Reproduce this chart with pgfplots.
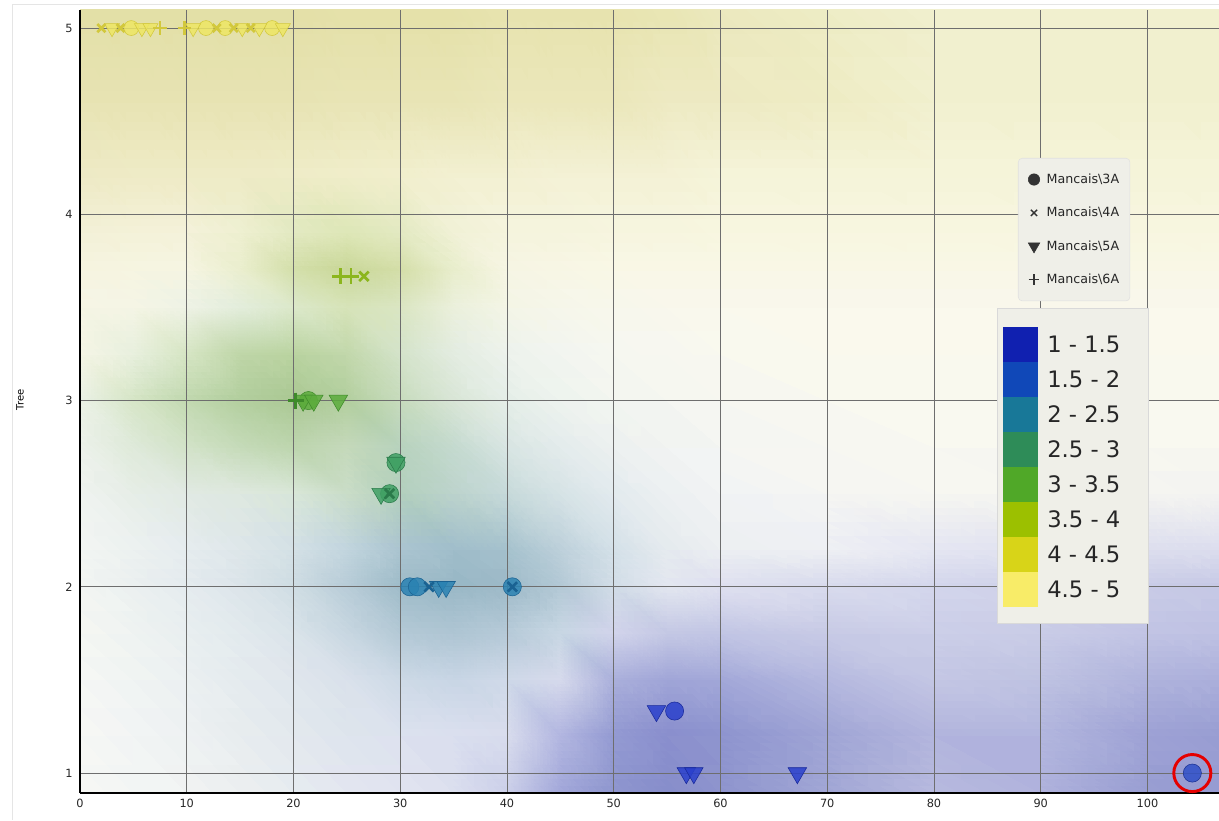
\documentclass[border=0pt]{standalone}
\usepackage{pgfplots}
\pgfplotsset{compat=1.18}
\usepackage{fontspec}
\setmainfont{DejaVu Sans}
\definecolor{cA}{HTML}{1020B0}
\definecolor{cB}{HTML}{1048B8}
\definecolor{cC}{HTML}{187898}
\definecolor{cD}{HTML}{2E8C58}
\definecolor{cE}{HTML}{50A828}
\definecolor{cF}{HTML}{9CC000}
\definecolor{cG}{HTML}{D8D418}
\definecolor{cH}{HTML}{F8EC68}
\definecolor{yF}{HTML}{EEE664}
\definecolor{yD}{HTML}{D2C83C}
\definecolor{ygC}{HTML}{8CB61E}
\definecolor{gF}{HTML}{5CAC3C}
\definecolor{gD}{HTML}{3E8A2A}
\definecolor{gtF}{HTML}{40A064}
\definecolor{gtD}{HTML}{2A7A4A}
\definecolor{tF}{HTML}{2A82B2}
\definecolor{tD}{HTML}{1A6292}
\definecolor{bF}{HTML}{2A40CC}
\definecolor{bD}{HTML}{18289A}
\definecolor{b2F}{HTML}{3050C8}
\definecolor{b2D}{HTML}{1A3090}
\definecolor{legbg}{HTML}{EFEFE8}
\definecolor{gridc}{HTML}{6E6E6E}
\pgfplotsset{
  circ/.style={only marks, mark=*, mark size=6.8pt, fill opacity=0.85},
  tri/.style={only marks, mark=triangle*, mark size=8pt, mark options={rotate=180}, fill opacity=0.85},
  crs/.style={only marks, mark=x, mark size=5pt, line width=2pt},
  pls/.style={only marks, mark=+, mark size=6pt, line width=2pt},
}
\begin{document}
\begin{tikzpicture}
\draw[black!10] (-51pt,-20.25pt) -- (-51pt,591.75pt) -- (854.25pt,591.75pt);
\begin{axis}[
  set layers,
  scale only axis, width=854.25pt, height=587.25pt,
  xmin=0, xmax=106.7, ymin=0.893, ymax=5.097,
  xtick={0,10,...,100}, ytick={1,2,3,4,5},
  grid=major, major grid style={gridc, line width=0.5pt},
  axis x line*=bottom, axis y line*=left,
  axis line style={line width=1.5pt, black, -},
  major tick length=0pt,
  tick label style={font=\fontsize{8.5}{10}\selectfont, text=black!85},
  /pgf/number format/assume math mode=true,
  xticklabel style={yshift=-1pt},
  yticklabel style={xshift=-2pt},
  ylabel={Tree},
  ylabel style={font=\fontsize{7.5}{9}\selectfont, at={(axis description cs:-0.0527,0.502)}, anchor=center},
  legend style={at={(axis description cs:0.8235,0.811)}, anchor=north west, fill=legbg, draw=black!12, rounded corners=3pt, inner xsep=7.5pt, inner ysep=11pt, row sep=15.1pt, column sep=4.5pt, font=\fontsize{9.5}{11}\selectfont, text=black!85, cells={anchor=west}, nodes={inner sep=0.6pt}},
]
\addplot[surf, shader=interp, mesh/color input=explicit, mesh/cols=18, on layer=axis background, forget plot] table[x=x, y=y, meta=c] {
x y c
0 0.893 rgb=0.965,0.97,0.955
5 0.893 rgb=0.95,0.96,0.955
10 0.893 rgb=0.94,0.95,0.95
15 0.893 rgb=0.92,0.935,0.94
20 0.893 rgb=0.90,0.92,0.94
25 0.893 rgb=0.885,0.90,0.94
30 0.893 rgb=0.88,0.89,0.94
35 0.893 rgb=0.86,0.875,0.935
40 0.893 rgb=0.80,0.815,0.915
45 0.893 rgb=0.64,0.66,0.855
50 0.893 rgb=0.56,0.59,0.81
55 0.893 rgb=0.53,0.555,0.795
60 0.893 rgb=0.555,0.58,0.805
70 0.893 rgb=0.63,0.65,0.835
80 0.893 rgb=0.715,0.725,0.87
90 0.893 rgb=0.69,0.70,0.865
100 0.893 rgb=0.60,0.62,0.825
106.7 0.893 rgb=0.59,0.61,0.825
0 1.2 rgb=0.965,0.97,0.955
5 1.2 rgb=0.945,0.955,0.955
10 1.2 rgb=0.93,0.945,0.95
15 1.2 rgb=0.905,0.925,0.935
20 1.2 rgb=0.885,0.91,0.93
25 1.2 rgb=0.865,0.895,0.925
30 1.2 rgb=0.86,0.885,0.935
35 1.2 rgb=0.855,0.875,0.935
40 1.2 rgb=0.85,0.865,0.93
45 1.2 rgb=0.70,0.715,0.88
50 1.2 rgb=0.58,0.605,0.825
55 1.2 rgb=0.54,0.56,0.805
60 1.2 rgb=0.555,0.58,0.81
70 1.2 rgb=0.625,0.645,0.835
80 1.2 rgb=0.70,0.71,0.865
90 1.2 rgb=0.70,0.715,0.87
100 1.2 rgb=0.62,0.635,0.835
106.7 1.2 rgb=0.60,0.62,0.825
0 1.5 rgb=0.96,0.97,0.955
5 1.5 rgb=0.94,0.955,0.95
10 1.5 rgb=0.92,0.94,0.945
15 1.5 rgb=0.895,0.92,0.935
20 1.5 rgb=0.875,0.90,0.925
25 1.5 rgb=0.85,0.88,0.92
30 1.5 rgb=0.80,0.85,0.90
35 1.5 rgb=0.78,0.835,0.895
40 1.5 rgb=0.81,0.85,0.91
45 1.5 rgb=0.84,0.855,0.925
50 1.5 rgb=0.67,0.69,0.86
55 1.5 rgb=0.63,0.65,0.845
60 1.5 rgb=0.64,0.66,0.85
70 1.5 rgb=0.71,0.725,0.875
80 1.5 rgb=0.77,0.78,0.895
90 1.5 rgb=0.75,0.765,0.885
100 1.5 rgb=0.69,0.705,0.865
106.7 1.5 rgb=0.675,0.69,0.86
0 1.75 rgb=0.955,0.965,0.95
5 1.75 rgb=0.935,0.95,0.945
10 1.75 rgb=0.91,0.935,0.94
15 1.75 rgb=0.885,0.915,0.93
20 1.75 rgb=0.85,0.89,0.915
25 1.75 rgb=0.78,0.84,0.88
30 1.75 rgb=0.70,0.785,0.835
35 1.75 rgb=0.68,0.77,0.825
40 1.75 rgb=0.71,0.79,0.845
45 1.75 rgb=0.78,0.84,0.89
50 1.75 rgb=0.82,0.83,0.92
55 1.75 rgb=0.77,0.785,0.895
60 1.75 rgb=0.76,0.775,0.895
70 1.75 rgb=0.785,0.795,0.90
80 1.75 rgb=0.80,0.81,0.91
90 1.75 rgb=0.79,0.80,0.905
100 1.75 rgb=0.76,0.77,0.895
106.7 1.75 rgb=0.75,0.76,0.89
0 2.0 rgb=0.95,0.96,0.95
5 2.0 rgb=0.92,0.94,0.94
10 2.0 rgb=0.895,0.92,0.935
15 2.0 rgb=0.86,0.895,0.915
20 2.0 rgb=0.81,0.865,0.89
25 2.0 rgb=0.72,0.80,0.845
30 2.0 rgb=0.62,0.735,0.785
35 2.0 rgb=0.60,0.72,0.775
40 2.0 rgb=0.62,0.73,0.785
45 2.0 rgb=0.70,0.785,0.835
50 2.0 rgb=0.82,0.865,0.905
55 2.0 rgb=0.89,0.905,0.94
60 2.0 rgb=0.875,0.88,0.94
70 2.0 rgb=0.85,0.86,0.93
80 2.0 rgb=0.83,0.84,0.925
90 2.0 rgb=0.81,0.82,0.915
100 2.0 rgb=0.79,0.80,0.905
106.7 2.0 rgb=0.78,0.79,0.90
0 2.2 rgb=0.95,0.96,0.95
5 2.2 rgb=0.925,0.945,0.94
10 2.2 rgb=0.90,0.925,0.935
15 2.2 rgb=0.87,0.905,0.915
20 2.2 rgb=0.83,0.88,0.90
25 2.2 rgb=0.76,0.835,0.87
30 2.2 rgb=0.67,0.77,0.815
35 2.2 rgb=0.63,0.745,0.795
40 2.2 rgb=0.65,0.76,0.805
45 2.2 rgb=0.74,0.815,0.855
50 2.2 rgb=0.83,0.88,0.91
55 2.2 rgb=0.90,0.92,0.935
60 2.2 rgb=0.93,0.94,0.95
70 2.2 rgb=0.935,0.94,0.955
80 2.2 rgb=0.90,0.905,0.95
90 2.2 rgb=0.88,0.885,0.94
100 2.2 rgb=0.87,0.875,0.935
106.7 2.2 rgb=0.865,0.87,0.935
0 2.5 rgb=0.935,0.95,0.935
5 2.5 rgb=0.90,0.93,0.90
10 2.5 rgb=0.88,0.915,0.885
15 2.5 rgb=0.87,0.91,0.87
20 2.5 rgb=0.85,0.905,0.845
25 2.5 rgb=0.79,0.865,0.78
30 2.5 rgb=0.70,0.815,0.74
35 2.5 rgb=0.74,0.83,0.80
40 2.5 rgb=0.78,0.855,0.855
45 2.5 rgb=0.84,0.89,0.90
50 2.5 rgb=0.89,0.92,0.935
55 2.5 rgb=0.93,0.945,0.95
60 2.5 rgb=0.95,0.955,0.955
70 2.5 rgb=0.965,0.965,0.95
80 2.5 rgb=0.97,0.97,0.945
90 2.5 rgb=0.965,0.965,0.945
100 2.5 rgb=0.96,0.96,0.945
106.7 2.5 rgb=0.955,0.955,0.945
0 2.75 rgb=0.925,0.945,0.915
5 2.75 rgb=0.87,0.915,0.85
10 2.75 rgb=0.82,0.885,0.78
15 2.75 rgb=0.77,0.855,0.72
20 2.75 rgb=0.74,0.835,0.68
25 2.75 rgb=0.77,0.85,0.73
30 2.75 rgb=0.72,0.825,0.74
35 2.75 rgb=0.77,0.855,0.81
40 2.75 rgb=0.85,0.90,0.89
45 2.75 rgb=0.895,0.925,0.925
50 2.75 rgb=0.93,0.945,0.94
55 2.75 rgb=0.95,0.955,0.945
60 2.75 rgb=0.96,0.965,0.95
70 2.75 rgb=0.97,0.97,0.945
80 2.75 rgb=0.975,0.975,0.94
90 2.75 rgb=0.975,0.975,0.94
100 2.75 rgb=0.975,0.975,0.94
106.7 2.75 rgb=0.975,0.975,0.94
0 3.0 rgb=0.92,0.945,0.90
5 3.0 rgb=0.84,0.90,0.78
10 3.0 rgb=0.76,0.85,0.69
15 3.0 rgb=0.70,0.81,0.62
20 3.0 rgb=0.67,0.785,0.58
25 3.0 rgb=0.70,0.81,0.62
30 3.0 rgb=0.78,0.86,0.74
35 3.0 rgb=0.85,0.90,0.84
40 3.0 rgb=0.90,0.935,0.91
45 3.0 rgb=0.935,0.955,0.935
50 3.0 rgb=0.955,0.965,0.94
55 3.0 rgb=0.965,0.97,0.94
60 3.0 rgb=0.97,0.97,0.94
70 3.0 rgb=0.975,0.975,0.935
80 3.0 rgb=0.975,0.975,0.935
90 3.0 rgb=0.975,0.975,0.935
100 3.0 rgb=0.975,0.975,0.935
106.7 3.0 rgb=0.975,0.975,0.935
0 3.25 rgb=0.96,0.96,0.90
5 3.25 rgb=0.91,0.94,0.87
10 3.25 rgb=0.84,0.90,0.77
15 3.25 rgb=0.75,0.84,0.66
20 3.25 rgb=0.73,0.83,0.63
25 3.25 rgb=0.76,0.845,0.67
30 3.25 rgb=0.83,0.89,0.79
35 3.25 rgb=0.89,0.925,0.88
40 3.25 rgb=0.93,0.95,0.925
45 3.25 rgb=0.95,0.96,0.94
50 3.25 rgb=0.965,0.97,0.94
55 3.25 rgb=0.97,0.97,0.94
60 3.25 rgb=0.975,0.975,0.935
70 3.25 rgb=0.98,0.975,0.93
80 3.25 rgb=0.98,0.975,0.93
90 3.25 rgb=0.98,0.975,0.93
100 3.25 rgb=0.98,0.975,0.93
106.7 3.25 rgb=0.98,0.975,0.93
0 3.5 rgb=0.965,0.96,0.895
5 3.5 rgb=0.96,0.96,0.90
10 3.5 rgb=0.935,0.95,0.90
15 3.5 rgb=0.89,0.93,0.86
20 3.5 rgb=0.86,0.91,0.79
25 3.5 rgb=0.84,0.89,0.72
30 3.5 rgb=0.855,0.90,0.76
35 3.5 rgb=0.92,0.94,0.86
40 3.5 rgb=0.955,0.96,0.90
45 3.5 rgb=0.965,0.965,0.915
50 3.5 rgb=0.97,0.97,0.92
55 3.5 rgb=0.975,0.97,0.92
60 3.5 rgb=0.975,0.97,0.92
70 3.5 rgb=0.975,0.97,0.92
80 3.5 rgb=0.975,0.97,0.92
90 3.5 rgb=0.975,0.97,0.92
100 3.5 rgb=0.975,0.97,0.92
106.7 3.5 rgb=0.975,0.97,0.92
0 3.7 rgb=0.965,0.955,0.875
5 3.7 rgb=0.965,0.96,0.88
10 3.7 rgb=0.965,0.96,0.885
15 3.7 rgb=0.92,0.935,0.81
20 3.7 rgb=0.83,0.875,0.67
25 3.7 rgb=0.79,0.845,0.60
30 3.7 rgb=0.83,0.87,0.66
35 3.7 rgb=0.91,0.93,0.80
40 3.7 rgb=0.965,0.96,0.89
45 3.7 rgb=0.97,0.965,0.895
50 3.7 rgb=0.975,0.97,0.90
55 3.7 rgb=0.975,0.97,0.90
60 3.7 rgb=0.975,0.97,0.90
70 3.7 rgb=0.975,0.97,0.90
80 3.7 rgb=0.975,0.97,0.90
90 3.7 rgb=0.975,0.97,0.90
100 3.7 rgb=0.975,0.97,0.90
106.7 3.7 rgb=0.975,0.97,0.90
0 3.9 rgb=0.95,0.94,0.84
5 3.9 rgb=0.955,0.945,0.845
10 3.9 rgb=0.955,0.945,0.85
15 3.9 rgb=0.935,0.94,0.82
20 3.9 rgb=0.89,0.915,0.76
25 3.9 rgb=0.87,0.905,0.72
30 3.9 rgb=0.89,0.915,0.76
35 3.9 rgb=0.945,0.945,0.84
40 3.9 rgb=0.96,0.955,0.865
45 3.9 rgb=0.96,0.955,0.865
50 3.9 rgb=0.965,0.96,0.87
55 3.9 rgb=0.965,0.96,0.87
60 3.9 rgb=0.97,0.965,0.875
70 3.9 rgb=0.97,0.965,0.875
80 3.9 rgb=0.97,0.965,0.875
90 3.9 rgb=0.97,0.965,0.875
100 3.9 rgb=0.97,0.965,0.875
106.7 3.9 rgb=0.97,0.965,0.875
0 4.2 rgb=0.93,0.915,0.77
5 4.2 rgb=0.935,0.92,0.775
10 4.2 rgb=0.935,0.92,0.775
15 4.2 rgb=0.935,0.92,0.775
20 4.2 rgb=0.935,0.925,0.78
25 4.2 rgb=0.94,0.93,0.79
30 4.2 rgb=0.945,0.935,0.80
35 4.2 rgb=0.95,0.94,0.82
40 4.2 rgb=0.95,0.94,0.82
45 4.2 rgb=0.955,0.945,0.835
50 4.2 rgb=0.955,0.945,0.835
55 4.2 rgb=0.955,0.945,0.835
60 4.2 rgb=0.96,0.955,0.85
70 4.2 rgb=0.96,0.955,0.85
80 4.2 rgb=0.96,0.955,0.85
90 4.2 rgb=0.96,0.955,0.85
100 4.2 rgb=0.96,0.955,0.85
106.7 4.2 rgb=0.96,0.955,0.85
0 4.6 rgb=0.905,0.89,0.70
5 4.6 rgb=0.905,0.89,0.70
10 4.6 rgb=0.905,0.89,0.70
15 4.6 rgb=0.905,0.89,0.70
20 4.6 rgb=0.905,0.89,0.70
25 4.6 rgb=0.91,0.895,0.71
30 4.6 rgb=0.91,0.895,0.71
35 4.6 rgb=0.91,0.895,0.71
40 4.6 rgb=0.92,0.905,0.73
45 4.6 rgb=0.92,0.905,0.73
50 4.6 rgb=0.92,0.905,0.73
55 4.6 rgb=0.93,0.915,0.76
60 4.6 rgb=0.93,0.915,0.76
70 4.6 rgb=0.935,0.925,0.77
80 4.6 rgb=0.945,0.94,0.81
90 4.6 rgb=0.945,0.94,0.81
100 4.6 rgb=0.945,0.94,0.81
106.7 4.6 rgb=0.945,0.94,0.81
0 5.097 rgb=0.89,0.875,0.65
5 5.097 rgb=0.89,0.875,0.65
10 5.097 rgb=0.89,0.875,0.65
15 5.097 rgb=0.89,0.875,0.65
20 5.097 rgb=0.89,0.875,0.65
25 5.097 rgb=0.895,0.88,0.66
30 5.097 rgb=0.895,0.88,0.66
35 5.097 rgb=0.895,0.88,0.66
40 5.097 rgb=0.905,0.89,0.68
45 5.097 rgb=0.905,0.89,0.68
50 5.097 rgb=0.905,0.89,0.68
55 5.097 rgb=0.91,0.90,0.70
60 5.097 rgb=0.92,0.91,0.74
70 5.097 rgb=0.93,0.925,0.77
80 5.097 rgb=0.94,0.935,0.80
90 5.097 rgb=0.94,0.935,0.80
100 5.097 rgb=0.94,0.935,0.80
106.7 5.097 rgb=0.94,0.935,0.80
};
% legend images
\addlegendimage{only marks, mark=*, mark size=4.3pt, black!80}
\addlegendentry{Mancais\textbackslash 3A}
\addlegendimage{only marks, mark=x, mark size=3.3pt, line width=1pt, black!80}
\addlegendentry{Mancais\textbackslash 4A}
\addlegendimage{only marks, mark=triangle*, mark size=5pt, mark options={rotate=180}, black!80}
\addlegendentry{Mancais\textbackslash 5A}
\addlegendimage{only marks, mark=+, mark size=4pt, line width=1pt, black!80}
\addlegendentry{Mancais\textbackslash 6A}
% Mancais\3A (circles)
\addplot[circ, mark size=5.6pt, draw=yD, fill=yF, forget plot] coordinates {(4.8,5) (11.8,5) (13.6,5) (18.0,5)};
\addplot[circ, draw=gD, fill=gF, forget plot] coordinates {(21.4,3)};
\addplot[circ, draw=gtD, fill=gtF, forget plot] coordinates {(29.6,2.667) (29.0,2.5)};
\addplot[circ, draw=tD, fill=tF, forget plot] coordinates {(30.9,2) (31.6,2) (40.5,2)};
\addplot[circ, draw=bD, fill=bF, forget plot] coordinates {(55.7,1.333)};
\addplot[circ, draw=b2D, fill=b2F, forget plot] coordinates {(104.2,1)};
% Mancais\5A (triangles)
\addplot[tri, mark size=6.5pt, draw=yD, fill=yF, forget plot] coordinates {(3.0,5) (5.8,5) (6.6,5) (10.6,5) (15.2,5) (16.8,5) (19.0,5)};
\addplot[tri, draw=gD, fill=gF, forget plot] coordinates {(20.9,3) (21.9,3) (24.2,3)};
\addplot[tri, draw=gtD, fill=gtF, forget plot] coordinates {(29.6,2.667) (28.2,2.5)};
\addplot[tri, draw=tD, fill=tF, forget plot] coordinates {(33.6,2) (34.3,2)};
\addplot[tri, draw=bD, fill=bF, forget plot] coordinates {(54.0,1.333) (56.8,1) (57.5,1) (67.2,1)};
% Mancais\4A (x)
\addplot[crs, mark size=4.3pt, draw=yD, forget plot] coordinates {(2.0,5) (3.8,5) (12.8,5) (14.4,5) (16.0,5)};
\addplot[crs, draw=ygC, forget plot] coordinates {(26.6,3.667)};
\addplot[crs, draw=gtD, forget plot] coordinates {(29.0,2.5)};
\addplot[crs, draw=tD, forget plot] coordinates {(32.7,2) (40.5,2)};
% Mancais\6A (+)
\addplot[pls, mark size=5pt, draw=yD, forget plot] coordinates {(7.5,5) (9.8,5)};
\addplot[pls, draw=ygC, forget plot] coordinates {(24.4,3.667) (25.4,3.667)};
\addplot[pls, draw=gD, forget plot] coordinates {(20.2,3)};
% highlight
\addplot[only marks, mark=o, mark size=13.9pt, line width=2.2pt, draw=red!90!black, forget plot] coordinates {(104.2,1)};
\end{axis}
% colour scale legend
\fill[legbg] (687.75pt,127.5pt) rectangle (801pt,363.75pt);
\draw[black!15] (687.75pt,127.5pt) rectangle (801pt,363.75pt);
\foreach \c/\l [count=\i from 0] in {cA/1 - 1.5, cB/1.5 - 2, cC/2 - 2.5, cD/2.5 - 3, cE/3 - 3.5, cF/3.5 - 4, cG/4 - 4.5, cH/4.5 - 5} {
  \fill[\c] (692.25pt,{349.5pt-26.25pt*\i}) rectangle (718.5pt,{349.5pt-26.25pt*(\i+1)});
  \node[anchor=west, inner sep=0pt, text height=12.4pt, text depth=0pt, font=\fontsize{17}{20}\selectfont, text=black!85] at (725.25pt,{349.5pt-26.25pt*(\i+0.5)}) {\l};
}
\pgfresetboundingbox
\path (-60pt,-20.25pt) rectangle (854.25pt,594.75pt);
\end{tikzpicture}
\end{document}
